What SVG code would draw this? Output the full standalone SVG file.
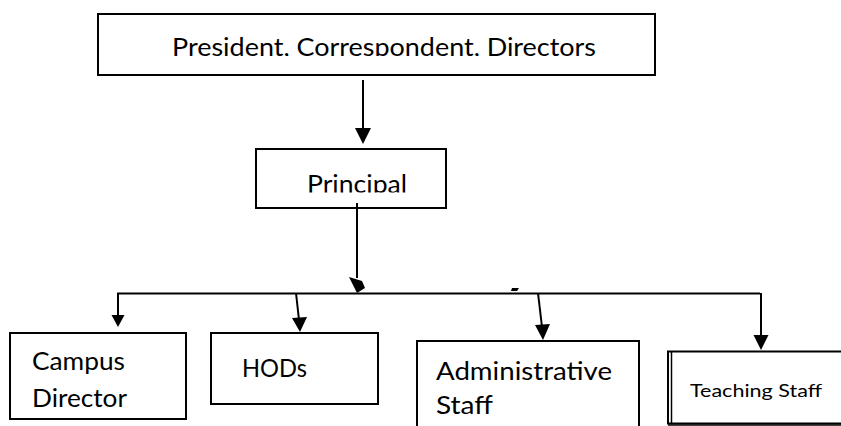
<svg xmlns="http://www.w3.org/2000/svg" width="841" height="426" viewBox="0 0 841 426">
<style>
.box{fill:#fff;stroke:#000;stroke-width:2}
.t{font-family:Lato,"Open Sans","Liberation Sans",sans-serif;font-size:25px;fill:#000}
.s{font-size:17px}
.c{fill:none;stroke:#000;stroke-width:2}
.h{fill:#000;stroke:none}
</style>
<defs>
<clipPath id="clipTop"><rect x="98" y="14" width="557" height="42"/></clipPath>
<clipPath id="clipPr"><rect x="256" y="149" width="190" height="43.5"/></clipPath>
</defs>
<rect width="841" height="426" fill="#fff"/>
<g id="president">
<rect class="box" x="98" y="14" width="557" height="61"/>
<text class="t" x="172" y="55.5" textLength="424" lengthAdjust="spacingAndGlyphs" clip-path="url(#clipTop)">President, Correspondent, Directors</text>
</g>
<g id="principal">
<rect class="box" x="256" y="149" width="190" height="59"/>
<text class="t" x="307" y="193" textLength="100" lengthAdjust="spacingAndGlyphs" clip-path="url(#clipPr)">Principal</text>
</g>
<g id="campus">
<rect class="box" x="10" y="333" width="176" height="86"/>
<text class="t" x="32" y="370" textLength="93" lengthAdjust="spacingAndGlyphs">Campus</text>
<text class="t" x="32" y="407" textLength="95" lengthAdjust="spacingAndGlyphs">Director</text>
</g>
<g id="hods">
<rect class="box" x="211" y="333" width="167" height="71"/>
<text class="t" x="242" y="377" textLength="65" lengthAdjust="spacingAndGlyphs">HODs</text>
</g>
<g id="admin">
<rect class="box" x="417" y="341" width="222" height="95"/>
<text class="t" x="436" y="380" textLength="176" lengthAdjust="spacingAndGlyphs">Administrative</text>
<text class="t" x="436" y="414" textLength="57" lengthAdjust="spacingAndGlyphs">Staff</text>
</g>
<g id="teaching">
<rect class="box" x="668" y="351.5" width="180" height="72"/>
<line x1="671.5" y1="352" x2="671.5" y2="424" stroke="#000" stroke-width="1.5"/>
<line x1="668" y1="425" x2="841" y2="425" stroke="#000" stroke-width="1.5"/>
<text class="t s" x="690" y="397" textLength="132" lengthAdjust="spacingAndGlyphs">Teaching Staff</text>
</g>
<g id="connectors">
<line class="c" x1="363" y1="80" x2="363" y2="130"/>
<polygon class="h" points="355,128 371,128 363,144"/>
<line class="c" x1="357" y1="203" x2="357" y2="278"/>
<polygon class="h" points="349,277 362,281 365,288 357,293"/>
<line class="c" x1="117" y1="293.5" x2="760" y2="293.5"/>
<line class="c" x1="118" y1="293" x2="118" y2="316"/>
<polygon class="h" points="111.5,315 124.5,315 118,327"/>
<line class="c" x1="296" y1="293" x2="299" y2="320"/>
<polygon class="h" points="292,318 307,317 300,332"/>
<line class="c" x1="538" y1="293" x2="542" y2="327"/>
<polygon class="h" points="535,325 550,324 543,340"/>
<line class="c" x1="761" y1="293" x2="761" y2="337"/>
<polygon class="h" points="753.5,335 768.5,335 761,350"/>
<polygon class="h" points="512,288 519,288 517,291 511,291"/>
</g>
</svg>
